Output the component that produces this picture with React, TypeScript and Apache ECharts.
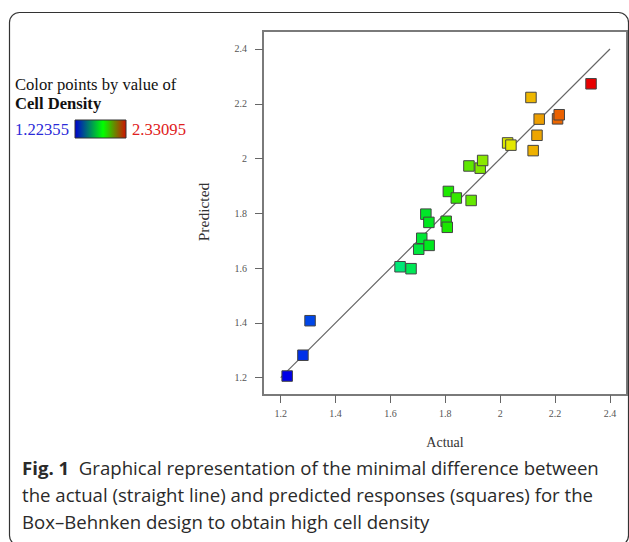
import React, { useEffect, useRef } from "react";
import * as echarts from "echarts";

const actual = [1.22355, 1.281, 1.307, 1.635, 1.675, 1.703, 1.714, 1.741, 1.729, 1.74, 1.803, 1.807, 1.811, 1.84, 1.894, 1.886, 1.927, 1.936, 2.027, 2.039, 2.12, 2.134, 2.142, 2.112, 2.209, 2.215, 2.33095];
const predicted = [1.206, 1.282, 1.408, 1.605, 1.598, 1.669, 1.709, 1.683, 1.797, 1.767, 1.771, 1.749, 1.88, 1.856, 1.847, 1.973, 1.965, 1.993, 2.057, 2.049, 2.029, 2.085, 2.144, 2.223, 2.145, 2.16, 2.273];
const tickValues = [1.2, 1.4, 1.6, 1.8, 2, 2.2, 2.4];
const fitLine = [[1.2, 1.2], [2.4, 2.4]];
const colorMin = 1.22355;
const colorMax = 2.33095;
const captionLines = [
  "Graphical representation of the minimal difference between",
  "the actual (straight line) and predicted responses (squares) for the",
  "Box\u2013Behnken design to obtain high cell density",
];

const SERIF = "'Liberation Serif', 'Times New Roman', serif";
const SANS = "'Open Sans', 'Noto Sans', sans-serif";

export default function App() {
  const ref = useRef<HTMLDivElement>(null);
  useEffect(() => {
    if (!ref.current) return;
    const chart = echarts.init(ref.current, null, { renderer: "svg" });
    const fmt = (v: number) => String(+Number(v).toFixed(1));
    const axisCommon = {
      type: "value",
      splitLine: { show: false },
      axisLine: { show: true, lineStyle: { color: "#7a7a7a", width: 2 } },
      axisTick: { show: true, length: 8, lineStyle: { color: "#666", width: 1 }, customValues: tickValues },
      axisLabel: { customValues: tickValues, formatter: fmt, color: "#555", fontFamily: SERIF, fontSize: 10 },
    };
    chart.setOption({
      animation: false,
      grid: { left: 263, right: 2, top: 31, bottom: 147, show: true, borderColor: "#7a7a7a", borderWidth: 2 },
      xAxis: { ...axisCommon, min: 1.1355, max: 2.462, axisLabel: { ...axisCommon.axisLabel, margin: 13 } },
      yAxis: { ...axisCommon, min: 1.1368, max: 2.4657, axisLabel: { ...axisCommon.axisLabel, margin: 16 } },
      visualMap: {
        show: false,
        type: "continuous",
        seriesIndex: 1,
        dimension: 0,
        min: colorMin,
        max: colorMax,
        inRange: { color: ["#0000e8", "#00e8e8", "#00e800", "#f0e800", "#e80000"] },
      },
      series: [
        {
          type: "line",
          data: fitLine,
          symbol: "none",
          lineStyle: { color: "#666", width: 1.2 },
          z: 1,
        },
        {
          type: "scatter",
          data: actual.map((a, i) => [a, predicted[i]]),
          symbol: "rect",
          symbolSize: 10.5,
          itemStyle: { borderColor: "#444", borderWidth: 1, opacity: 1 },
          z: 2,
        },
      ],
      graphic: [
        {
          type: "rect",
          shape: { x: 9.5, y: 12.5, width: 619, height: 533, r: 10 },
          style: { fill: "none", stroke: "#333", lineWidth: 1.2 },
          silent: true,
        },
        {
          type: "text",
          x: 15, y: 84,
          style: { text: "Color points by value of", font: `16.6px ${SERIF}`, fill: "#111", verticalAlign: "middle" },
        },
        {
          type: "text",
          x: 15, y: 103,
          style: { text: "Cell Density", font: `bold 16.6px ${SERIF}`, fill: "#111", verticalAlign: "middle" },
        },
        {
          type: "text",
          x: 15, y: 129,
          style: { text: String(colorMin), font: `16.6px ${SERIF}`, fill: "#2a2ad8", verticalAlign: "middle" },
        },
        {
          type: "rect",
          shape: { x: 75, y: 120, width: 51, height: 18 },
          style: {
            stroke: "#333",
            lineWidth: 1,
            fill: new echarts.graphic.LinearGradient(0, 0, 1, 0, [
              { offset: 0, color: "#0000d0" },
              { offset: 0.55, color: "#00ff00" },
              { offset: 1, color: "#d01000" },
            ]),
          },
        },
        {
          type: "text",
          x: 132, y: 129,
          style: { text: String(colorMax), font: `16.6px ${SERIF}`, fill: "#e02020", verticalAlign: "middle" },
        },
        {
          type: "text",
          x: 445, y: 442,
          style: { text: "Actual", font: `14px ${SERIF}`, fill: "#333", align: "center", verticalAlign: "middle" },
        },
        {
          type: "text",
          x: 203, y: 212,
          rotation: Math.PI / 2,
          style: { text: "Predicted", font: `15.5px ${SERIF}`, fill: "#333", align: "center", verticalAlign: "middle" },
        },
        {
          type: "text",
          x: 22, y: 467,
          style: {
            text: "{b|Fig. 1}  " + captionLines[0],
            font: `18.6px ${SANS}`,
            fill: "#2a2a2a",
            verticalAlign: "middle",
            rich: { b: { fontWeight: "bold", fontSize: 18.6, fontFamily: SANS, fill: "#2a2a2a" } },
          },
        },
        {
          type: "text",
          x: 22, y: 494,
          style: { text: captionLines[1], font: `18.6px ${SANS}`, fill: "#2a2a2a", verticalAlign: "middle" },
        },
        {
          type: "text",
          x: 22, y: 521,
          style: { text: captionLines[2], font: `18.6px ${SANS}`, fill: "#2a2a2a", verticalAlign: "middle" },
        },
      ],
    });
    return () => chart.dispose();
  }, []);
  return <div ref={ref} style={{ position: "fixed", left: 0, top: 0, width: 629, height: 542, background: "#fff" }} />;
}
